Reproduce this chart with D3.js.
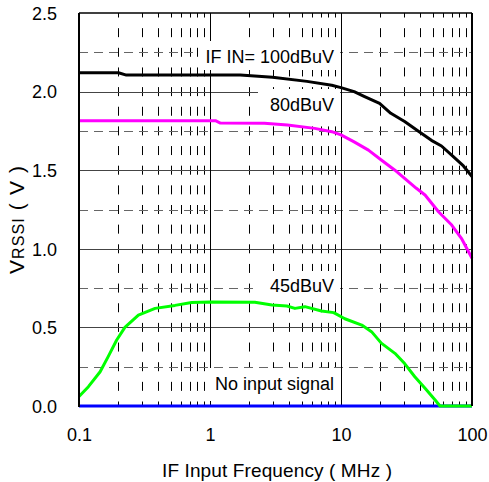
<!DOCTYPE html>
<html><head><meta charset="utf-8">
<script src="https://cdn.jsdelivr.net/npm/d3@7"></script>
<style>body{margin:0;background:#fff}svg{display:block}</style>
</head><body>
<script>
// ---- data (frequency in MHz, VRSSI in V) ----
const xTickLabels = ["0.1", "1", "10", "100"];
const xTickValues = [0.1, 1, 10, 100];
const yTickLabels = ["0.0", "0.5", "1.0", "1.5", "2.0", "2.5"];
const yTickValues = [0, 0.5, 1.0, 1.5, 2.0, 2.5];

const freq100 = [0.1, 0.2, 0.23, 1.0, 1.7, 3.0, 5.5, 8.5, 10, 12.6, 15, 19.7, 24, 30.6, 39.5, 49, 58.5, 72, 86, 100];
const v100    = [2.12, 2.12, 2.105, 2.105, 2.105, 2.092, 2.065, 2.04, 2.025, 2.0, 1.97, 1.925, 1.862, 1.81, 1.745, 1.69, 1.654, 1.586, 1.527, 1.46];

const freq80 = [0.1, 1.1, 1.2, 2.6, 3.9, 6.3, 8.5, 10, 12.6, 16.2, 20.3, 25.8, 30.6, 37.6, 43.8, 55.5, 70, 83, 100];
const v80    = [1.815, 1.815, 1.80, 1.798, 1.787, 1.766, 1.745, 1.725, 1.68, 1.628, 1.565, 1.50, 1.448, 1.385, 1.342, 1.236, 1.151, 1.067, 0.94];

const freq45 = [0.1, 0.118, 0.145, 0.167, 0.194, 0.224, 0.284, 0.381, 0.54, 0.725, 1.0, 2.2, 2.97, 3.86, 4.45, 5.3, 7.1, 8.8, 10.7, 14.4, 17.1, 20.3, 25.8, 30.6, 36.6, 43.8, 52.3, 57, 100];
const v45    = [0.06, 0.123, 0.218, 0.314, 0.42, 0.50, 0.578, 0.621, 0.640, 0.659, 0.662, 0.66, 0.642, 0.636, 0.621, 0.632, 0.604, 0.594, 0.555, 0.515, 0.473, 0.40, 0.335, 0.27, 0.186, 0.113, 0.038, 0.0, 0.0];

const freqNone = [0.1, 100];
const vNone    = [0, 0];

const curveLabels = ["IF IN= 100dBuV", "80dBuV", "45dBuV", "No input signal"];

// ---- chart ----
const W = 489, H = 482;
const L = 79, R = 472, T = 13, B = 406;
const FONT = "'Liberation Sans', Arial, sans-serif";

const svg = d3.select("body").append("svg").attr("width", W).attr("height", H);
svg.append("rect").attr("width", W).attr("height", H).attr("fill", "#fff");

const x = d3.scaleLog().domain([0.1, 100]).range([L, R]);
const y = d3.scaleLinear().domain([0, 2.5]).range([B, T]);

const grid = svg.append("g");
// minor vertical dashed lines (2..9 within each decade)
const minorX = x.ticks().filter(v => !xTickValues.some(m => Math.abs(m - v) / m < 1e-6));
grid.selectAll(".vminor").data(minorX).enter().append("line")
  .attr("x1", d => Math.round(x(d)) + 0.5).attr("x2", d => Math.round(x(d)) + 0.5)
  .attr("y1", T).attr("y2", B)
  .attr("stroke", "#000").attr("stroke-width", 1)
  .attr("stroke-dasharray", "9,10.65").attr("stroke-dashoffset", 4.5);
// minor horizontal dashed lines
const minorY = d3.range(0.25, 2.5, 0.5);
grid.selectAll(".hminor").data(minorY).enter().append("line")
  .attr("x1", L).attr("x2", R)
  .attr("y1", d => Math.round(y(d)) + 0.5).attr("y2", d => Math.round(y(d)) + 0.5)
  .attr("stroke", "#666").attr("stroke-width", 1.2)
  .attr("stroke-dasharray", "9,6");
// major horizontal solid lines
grid.selectAll(".hmajor").data(yTickValues.slice(1, -1)).enter().append("line")
  .attr("x1", L).attr("x2", R)
  .attr("y1", d => Math.round(y(d)) + 0.5).attr("y2", d => Math.round(y(d)) + 0.5)
  .attr("stroke", "#444").attr("stroke-width", 1);
// major vertical solid lines
grid.selectAll(".vmajor").data(xTickValues.slice(1, -1)).enter().append("line")
  .attr("x1", d => Math.round(x(d)) + 0.5).attr("x2", d => Math.round(x(d)) + 0.5)
  .attr("y1", T).attr("y2", B)
  .attr("stroke", "#000").attr("stroke-width", 1);

// label boxes and texts
const boxes = [
  {t: curveLabels[0], x0: 199, x1: 340, y0: 41, y1: 70, base: 63},
  {t: curveLabels[1], x0: 258, x1: 340, y0: 89, y1: 121, base: 110.5},
  {t: curveLabels[2], x0: 258, x1: 340, y0: 271, y1: 300, base: 291.5},
  {t: curveLabels[3], x0: 207, x1: 340, y0: 368, y1: 401, base: 390}
];
const lab = svg.append("g");
boxes.forEach(b => {
  lab.append("rect").attr("x", b.x0).attr("y", b.y0).attr("width", b.x1 - b.x0).attr("height", b.y1 - b.y0).attr("fill", "#fff");
  lab.append("text").attr("x", 334).attr("y", b.base).attr("text-anchor", "end")
    .attr("font-family", FONT).attr("font-size", 18).attr("fill", "#000").text(b.t);
});

// curves
const line = d3.line().x(d => x(d[0])).y(d => y(d[1]));
const series = [
  {f: freqNone, v: vNone, c: "#0000ff"},
  {f: freq45, v: v45, c: "#00ff00"},
  {f: freq80, v: v80, c: "#ff00ff"},
  {f: freq100, v: v100, c: "#000000"}
];
series.forEach(s => {
  svg.append("path").datum(d3.zip(s.f, s.v)).attr("d", line)
    .attr("fill", "none").attr("stroke", s.c).attr("stroke-width", 3)
    .attr("stroke-linejoin", "round");
});

// frame
svg.append("line").attr("x1", L).attr("x2", R).attr("y1", T).attr("y2", T).attr("stroke", "#000").attr("stroke-width", 1.5);
svg.append("line").attr("x1", R).attr("x2", R).attr("y1", T).attr("y2", B).attr("stroke", "#000").attr("stroke-width", 2);
svg.append("line").attr("x1", L).attr("x2", L).attr("y1", T).attr("y2", B + 1).attr("stroke", "#000").attr("stroke-width", 2);

// axes tick labels via d3 axes (no lines)
const xAxis = d3.axisBottom(x).tickValues(xTickValues).tickFormat((d, i) => xTickLabels[i]).tickSize(0).tickPadding(0);
const gx = svg.append("g").attr("transform", `translate(0,${B})`).call(xAxis);
gx.select(".domain").remove();
gx.selectAll("text").attr("font-family", FONT).attr("font-size", 18).attr("fill", "#000")
  .attr("dy", null).attr("y", 34.7);

const yAxis = d3.axisLeft(y).tickValues(yTickValues).tickFormat((d, i) => yTickLabels[i]).tickSize(0).tickPadding(22);
const gy = svg.append("g").attr("transform", `translate(${L},0)`).call(yAxis);
gy.select(".domain").remove();
gy.selectAll("text").attr("font-family", FONT).attr("font-size", 18).attr("fill", "#000").attr("dy", "0.35em");

// axis titles
svg.append("text").attr("x", 277).attr("y", 476.5).attr("text-anchor", "middle")
  .attr("font-family", FONT).attr("font-size", 19).attr("fill", "#000")
  .attr("textLength", 230).attr("lengthAdjust", "spacing")
  .text("IF Input Frequency ( MHz )");

const yt = svg.append("text").attr("transform", "translate(24,220) rotate(-90)").attr("text-anchor", "middle")
  .attr("font-family", FONT).attr("font-size", 21).attr("fill", "#000")
  .attr("textLength", 108).attr("lengthAdjust", "spacing");
yt.append("tspan").text("V");
yt.append("tspan").attr("font-size", 16).text("RSSI");
yt.append("tspan").text(" ( V )");
</script>
</body></html>
